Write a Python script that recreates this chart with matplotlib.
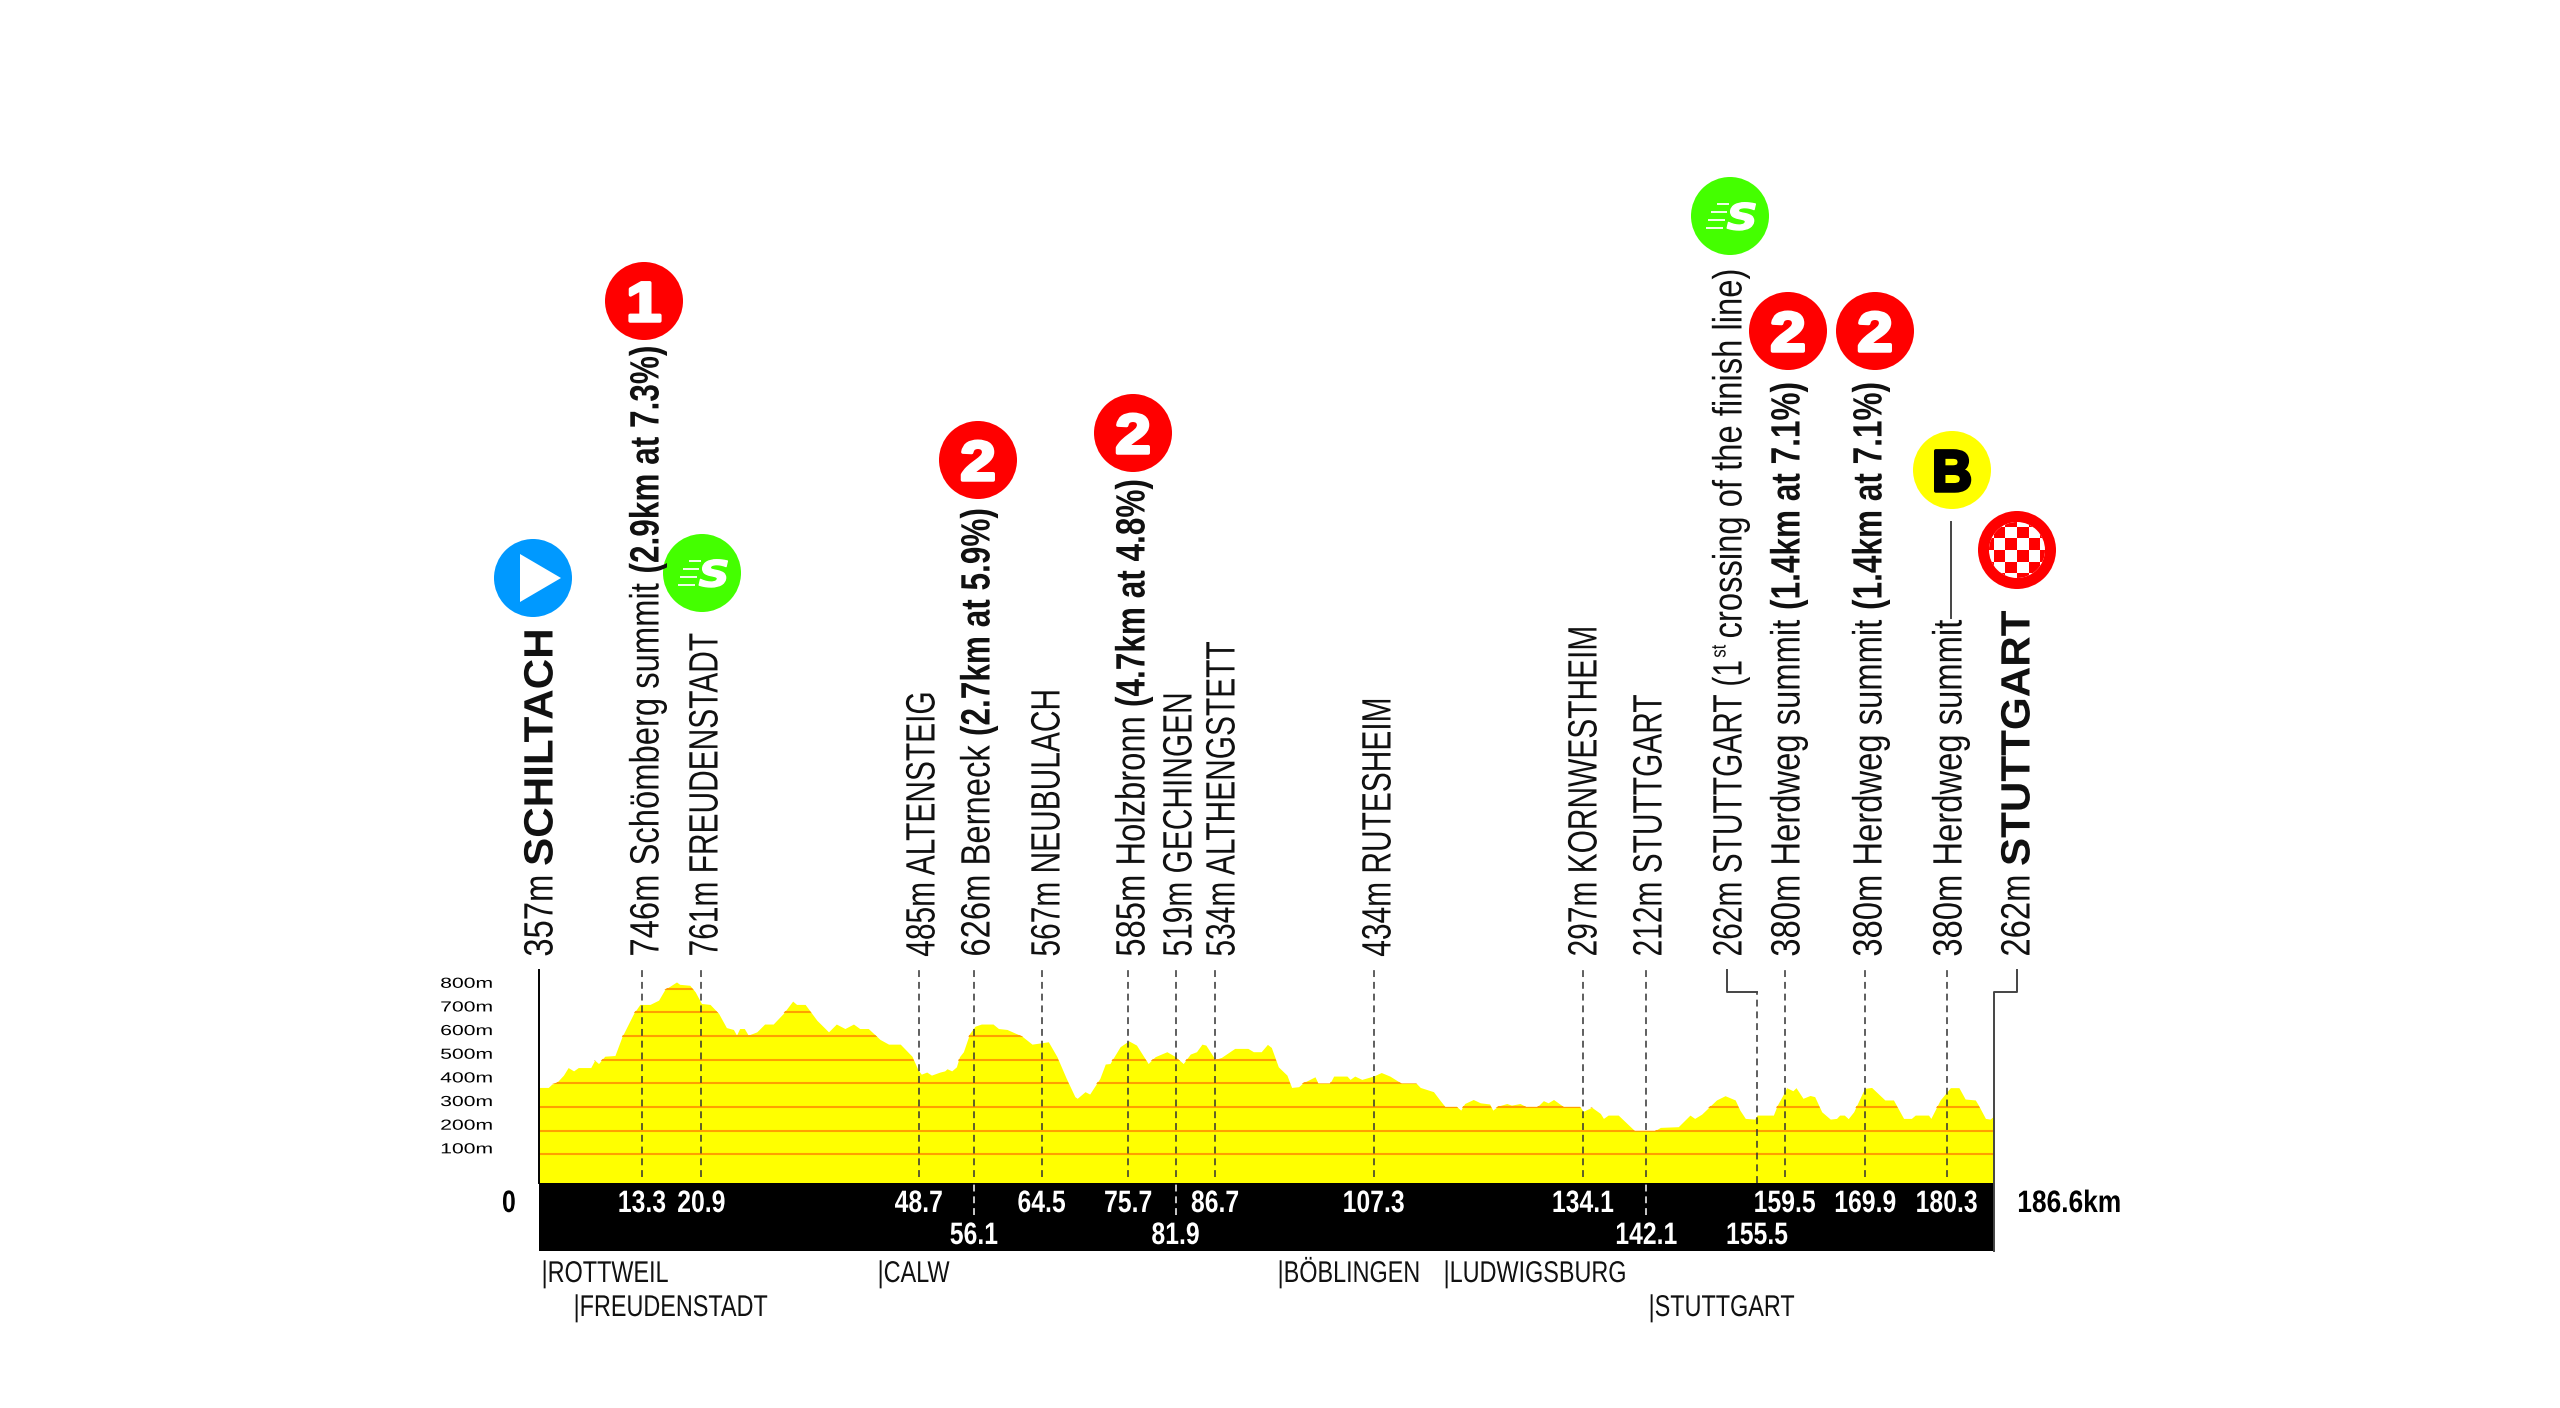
import matplotlib
matplotlib.use("Agg")
import matplotlib.pyplot as plt
import matplotlib.patheffects as pe
from matplotlib.patches import Circle, Polygon, Rectangle
from matplotlib.transforms import Affine2D

# profile
km = [0, 1.15, 1.6, 2.2, 3.1, 3.7, 4.4, 5.0, 6.6, 7.1, 7.6, 8.4, 9.7, 10.6, 12.1, 12.9, 14.2, 15.3, 16.1, 17.6,
      18.0, 19.3, 20.0, 20.8, 21.9, 23.0, 24.0, 24.9, 25.3, 25.7, 26.3, 26.8, 27.9, 28.9, 30.0, 31.3, 32.5, 33.0,
      34.1, 35.6, 37.1, 38.1, 39.2, 40.3, 41.1, 42.2, 43.7, 44.8, 46.3, 47.8, 48.6, 49.0, 49.7, 50.3, 51.4, 52.0,
      52.3, 52.9, 53.5, 53.9, 54.4, 55.2, 55.9, 56.7, 58.2, 58.9, 60.0, 61.9, 63.2, 65.3, 66.4, 67.6, 68.7, 69.0,
      70.0, 70.6, 71.9, 72.6, 73.2, 74.5, 75.6, 76.6, 78.1, 79.0, 80.5, 81.5, 82.6, 83.5, 84.3, 85.0, 85.5, 86.7,
      87.5, 89.2, 90.9, 91.6, 92.6, 93.4, 93.9, 94.8, 95.9, 96.5, 97.4, 98.0, 99.5, 99.9, 101.4, 101.9, 103.6,
      104.0, 104.6, 105.5, 107.0, 108.0, 109.1, 110.6, 112.5, 113.0, 114.7, 115.5, 116.2, 117.7, 118.2, 118.7,
      119.8, 120.7, 121.9, 122.3, 123.0, 124.1, 124.7, 125.8, 126.6, 128.0, 128.8, 129.4, 130.1, 131.4, 133.5,
      133.9, 135.0, 136.1, 136.5, 137.1, 138.4, 140.5, 143.1, 143.8, 146.1, 147.6, 148.2, 149.1, 151.0, 152.1,
      153.4, 154.0, 154.7, 155.9, 156.2, 158.3, 158.8, 159.6, 160.0, 160.8, 161.2, 162.1, 163.0, 163.6, 164.5,
      165.6, 166.4, 166.8, 167.4, 167.9, 168.6, 170.0, 170.9, 172.6, 173.7, 175.0, 176.0, 176.5, 178.2, 178.5,
      179.7, 181.0, 182.1, 182.9, 184.2, 184.6, 185.5, 186.1, 186.6]
elev = [383, 383, 397, 403, 435, 467, 453, 467, 467, 498, 484, 515, 518, 597, 696, 734, 734, 752, 797, 829,
        819, 815, 787, 738, 734, 696, 636, 628, 604, 632, 632, 604, 618, 651, 651, 696, 748, 734,
        734, 667, 618, 651, 632, 651, 632, 632, 586, 566, 566, 515, 456, 439, 448, 435, 448, 453,
        462, 453, 470, 513, 534, 611, 642, 651, 651, 632, 628, 600, 566, 576, 513, 421, 344, 337,
        365, 355, 421, 482, 484, 555, 580, 562, 484, 513, 534, 515, 484, 524, 534, 566, 562, 501,
        510, 548, 548, 534, 534, 565, 552, 470, 435, 383, 386, 403, 428, 400, 400, 431, 431,
        417, 431, 417, 431, 446, 431, 400, 400, 383, 365, 330, 301, 301, 287, 315,
        332, 318, 313, 287, 304, 315, 308, 315, 301, 301, 327, 318, 332, 301, 301,
        282, 299, 273, 252, 266, 266, 200, 200, 214, 217, 266, 252, 270, 330, 348,
        330, 287, 252, 249, 266, 266, 308, 355, 382, 369, 382, 337, 349, 344, 280,
        249, 252, 266, 266, 251, 280, 379, 383, 330, 330, 252, 252, 266, 266, 252,
        330, 382, 382, 334, 330, 308, 252, 249, 263]

total_km = 186.6
elev_ticks = [100, 200, 300, 400, 500, 600, 700, 800]

# printed distances, and where the picture really puts them on the km scale
top_labels = ["13.3", "20.9", "48.7", "64.5", "75.7", "86.7", "107.3", "134.1", "159.5", "169.9", "180.3"]
top_marks = [13.17, 20.8, 48.7, 64.44, 75.55, 86.7, 107.03, 133.87, 159.75, 170.09, 180.53]
low_labels = ["56.1", "81.9", "142.1", "155.5"]
low_marks = [55.76, 81.63, 142.0, 156.2]

towns_row1 = ["ROTTWEIL", "CALW", "BÖBLINGEN", "LUDWIGSBURG"]
towns_row1_x = [541, 877, 1277, 1443]
towns_row2 = ["FREUDENSTADT", "STUTTGART"]
towns_row2_x = [573, 1648]

# each label: centre x in pixels, then (text, style) parts going up the page
labels = [
    (538, [("357m", "r"), ("SCHILTACH", "c")]),
    (644, [("746m Schömberg summit", "r"), ("(2.9km at 7.3%)", "b")]),
    (703, [("761m FREUDENSTADT", "u")]),
    (920, [("485m ALTENSTEIG", "u")]),
    (975, [("626m Berneck", "r"), ("(2.7km at 5.9%)", "b")]),
    (1045, [("567m NEUBULACH", "u")]),
    (1130, [("585m Holzbronn", "r"), ("(4.7km at 4.8%)", "b")]),
    (1177, [("519m GECHINGEN", "u")]),
    (1220, [("534m ALTHENGSTETT", "u")]),
    (1376, [("434m RUTESHEIM", "u")]),
    (1582, [("297m KORNWESTHEIM", "u")]),
    (1647, [("212m STUTTGART", "u")]),
    (1727, [("262m STUTTGART (1", "v"), ("st", "s"), ("crossing of the finish line)", "r")]),
    (1785, [("380m Herdweg summit", "r"), ("(1.4km at 7.1%)", "b")]),
    (1867, [("380m Herdweg summit", "r"), ("(1.4km at 7.1%)", "b")]),
    (1947, [("380m Herdweg summit", "r")]),
    (2015, [("262m", "r"), ("STUTTGART", "c")]),
]

RED = "#ff0000"
GREEN = "#44ff00"
FONT = "Liberation Sans"


class Squeeze(pe.AbstractPathEffect):
    # narrows a text along its baseline, the font here has no condensed cut
    def __init__(self, sx, anchor=0.0, stroke=0):
        super().__init__()
        self.sx = sx
        self.anchor = anchor
        self.stroke = stroke

    def draw_path(self, renderer, gc, tpath, affine, rgbFace=None):
        b = tpath.get_extents()
        px = b.x0 + self.anchor * b.width
        t = Affine2D().translate(-px, 0).scale(self.sx, 1).translate(px, 0) + affine
        if self.stroke:
            gc.set_linewidth(self.stroke)
        renderer.draw_path(gc, tpath, t, rgbFace)


fig = plt.figure(figsize=(25.6, 14.08), dpi=100)
W, H = 2560, 1408

# main axes: km across, metres up
ax_left, ax_right, ax_top, ax_bottom = 539.3, 1994, 970, 1251
ax = fig.add_axes([ax_left / W, 1 - ax_bottom / H, (ax_right - ax_left) / W, (ax_bottom - ax_top) / H])
ax.set_xlim(0, total_km)
ax.set_ylim(-308.7, 879.5)
ax.axis("off")

band_top = -20
fill = ax.fill_between(km, band_top, elev, color="#ffff00", lw=0)
grid = ax.hlines(elev_ticks, 0, total_km, color="#ffa000", lw=1.5)
grid.set_clip_path(fill.get_paths()[0], ax.transData)
ax.add_patch(Rectangle((0, -308.7), total_km, 288.7, color="black", lw=0, zorder=3))

dash = (0, (4.5, 3.2))
ax.vlines(top_marks + low_marks[:3], 4, 879.5, color="#333333", lw=1.1, linestyles=dash, zorder=4)
ax.vlines(low_marks[:3], -156, band_top, color="white", lw=1.1, linestyles=dash, zorder=4)
ax.vlines(low_marks[3], band_top, 786, color="#333333", lw=1.1, linestyles=dash, zorder=4)

# start line and the two steps up to the last labels
ax.plot([0, 0], [band_top, 879.5], color="black", lw=1.4, zorder=4, clip_on=False)
ax.plot([total_km, total_km, total_km + 2.95, total_km + 2.95], [-308.7, 786, 786, 879.5],
        color="#444444", lw=1.4, zorder=4, clip_on=False)
ax.plot([low_marks[3], low_marks[3] - 3.9, low_marks[3] - 3.9], [786, 786, 879.5],
        color="#444444", lw=1.4, zorder=4, clip_on=False)


def km_text(x, y, s, sx=0.8, color="white", ha="center", anchor=0.5):
    ax.text(x, y, s, color=color, fontsize=22.3, family=FONT, weight="bold", ha=ha, va="baseline", zorder=5,
            clip_on=False, path_effects=[Squeeze(sx, anchor)])


for k, s in zip(top_marks, top_labels):
    km_text(k, -143.8, s)
for k, s in zip(low_marks, low_labels):
    km_text(k, -279, s)
km_text(-3.9, -143.8, "0", color="black")
km_text(total_km + 2.95, -143.8, f"{total_km}km", color="black", ha="left", anchor=0, sx=0.85)

for e in elev_ticks:
    ax.annotate(f"{e}m", xy=(0, e), xycoords=("data", "data"), xytext=(-33.3, 3.6), textcoords="offset points",
                ha="right", va="center", fontsize=10.5, family=FONT, annotation_clip=False,
                path_effects=[Squeeze(1.45, 1.0)])

# overlay in pixels for the labels and the badges
ov = fig.add_axes([0, 0, 1, 1], zorder=10)
ov.set_xlim(0, W)
ov.set_ylim(H, 0)
ov.axis("off")
ov.patch.set_alpha(0)

for name, x in zip(towns_row1, towns_row1_x):
    ov.text(x, 1282, "|" + name, fontsize=21.6, family=FONT, color="#111111", path_effects=[Squeeze(0.78)])
for name, x in zip(towns_row2, towns_row2_x):
    ov.text(x, 1316, "|" + name, fontsize=21.6, family=FONT, color="#111111", path_effects=[Squeeze(0.78)])

styles = {
    "r": dict(size=29.5, weight="normal", sx=0.8, raise_px=0, gap=9),
    "u": dict(size=29.5, weight="normal", sx=0.73, raise_px=0, gap=9),
    "v": dict(size=29.5, weight="normal", sx=0.73, raise_px=0, gap=3),
    "b": dict(size=29.5, weight="bold", sx=0.77, raise_px=0, gap=9),
    "c": dict(size=29.5, weight="bold", sx=1.03, raise_px=0, gap=9),
    "s": dict(size=15, weight="normal", sx=0.8, raise_px=16, gap=6),
}
renderer = fig.canvas.get_renderer()
for cx, parts in labels:
    y = 957
    for s, st in parts:
        o = styles[st]
        t = ov.text(cx + 14.5 - o["raise_px"], y, s, rotation=90, rotation_mode="anchor", ha="left", va="baseline",
                    fontsize=o["size"], weight=o["weight"], family=FONT, color="#111111",
                    path_effects=[Squeeze(o["sx"])])
        y -= t.get_window_extent(renderer).height * o["sx"] + o["gap"]

# line from the bonus badge
ov.plot([1951, 1951], [522, 618], color="#444444", lw=1.4)


def disc(x, y, color):
    ov.add_patch(Circle((x, y), 39, color=color, lw=0))


def badge_text(x, y, s, color="white", size=40, sx=1.15, stroke=2.5):
    ov.text(x, y, s, color=color, fontsize=size, family=FONT, weight="bold", ha="center", va="center_baseline",
            path_effects=[Squeeze(sx, 0.5, stroke)])


def sprint(x, y):
    disc(x, y, GREEN)
    ov.text(x + 12, y, "S", color="white", fontsize=26, family="DejaVu Sans", weight="bold", style="italic",
            ha="center", va="center_baseline", path_effects=[Squeeze(1.2, 0.5, 1.0)])
    for dy, x0, x1 in [(-12, -13, -1), (-4, -19, -3), (4, -22, -5), (12, -24, -7)]:
        ov.plot([x + x0, x + x1], [y + dy, y + dy], color="white", lw=1.3, solid_capstyle="butt")


disc(533, 578, "#0099ff")
ov.add_patch(Polygon([(520, 554), (520, 602), (561, 578)], color="white", lw=0))

for x, y, s in [(644, 301, "1"), (978, 460, "2"), (1133, 433, "2"), (1788, 331, "2"), (1875, 331, "2")]:
    disc(x, y, RED)
    badge_text(x, y, s)
sprint(702, 573)
sprint(1730, 216)

disc(1952, 470, "#ffff00")
badge_text(1952, 470, "B", color="black", size=42, sx=0.95)

# finish flag
fx, fy = 2017, 550
disc(fx, fy, RED)
inner = Circle((fx, fy), 28, color="white", lw=0)
ov.add_patch(inner)
cell = 11.7
for i in range(-3, 3):
    for j in range(-3, 3):
        if (i + j) % 2 == 0:
            sq = Rectangle((fx + i * cell, fy + j * cell), cell, cell, color=RED, lw=0)
            ov.add_patch(sq)
            sq.set_clip_path(inner)

fig.savefig("out.png", dpi=100, facecolor="white")
